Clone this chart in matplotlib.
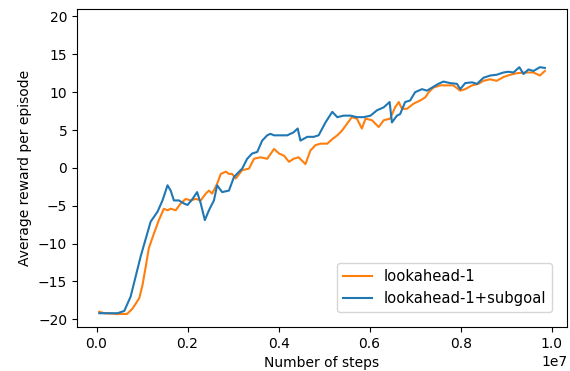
import matplotlib
matplotlib.use('Agg')
from matplotlib import pyplot as plt
import numpy as np

# lookahead-1 (orange)
steps_look = [0.006, 0.017, 0.046, 0.067, 0.079, 0.094, 0.101, 0.108, 0.115, 0.126,
              0.137, 0.148, 0.156, 0.163, 0.174, 0.185, 0.196, 0.207, 0.218, 0.229,
              0.240, 0.247, 0.254, 0.265, 0.273, 0.284, 0.291, 0.298, 0.306, 0.320,
              0.335, 0.346, 0.360, 0.375, 0.390, 0.401, 0.412, 0.423, 0.433, 0.444,
              0.459, 0.470, 0.481, 0.492, 0.507, 0.518, 0.529, 0.539, 0.550, 0.561,
              0.572, 0.583, 0.591, 0.605, 0.620, 0.631, 0.645, 0.656, 0.664, 0.671,
              0.682, 0.697, 0.711, 0.722, 0.730, 0.740, 0.755, 0.770, 0.784, 0.799,
              0.810, 0.825, 0.839, 0.850, 0.865, 0.879, 0.894, 0.909, 0.923, 0.942,
              0.960, 0.974, 0.985]
reward_look = [-19.0, -19.2, -19.3, -19.3, -18.6, -17.2, -15.5, -13.1, -10.6, -8.7,
               -6.9, -5.4, -5.6, -5.4, -5.6, -4.7, -4.1, -4.3, -4.1, -4.3,
               -3.4, -3.0, -3.4, -2.1, -0.8, -0.5, -0.8, -0.8, -1.4, -0.3,
               -0.1, 1.2, 1.4, 1.2, 2.5, 1.9, 1.6, 0.8, 1.2, 1.4,
               0.5, 2.3, 3.0, 3.2, 3.2, 3.8, 4.3, 4.9, 5.8, 6.7,
               6.5, 5.2, 6.5, 6.3, 5.4, 6.3, 6.5, 8.0, 8.7, 7.8,
               7.8, 8.5, 8.9, 9.3, 10.0, 10.6, 10.9, 10.9, 10.9, 10.2,
               10.4, 10.9, 11.1, 11.5, 11.7, 11.5, 12.0, 12.3, 12.5, 12.6,
               12.6, 12.2, 12.8]

# lookahead-1+subgoal (blue)
steps_sub = [0.006, 0.046, 0.061, 0.075, 0.097, 0.119, 0.134, 0.145, 0.156, 0.163,
             0.170, 0.181, 0.192, 0.200, 0.211, 0.221, 0.229, 0.238, 0.247, 0.258,
             0.265, 0.276, 0.291, 0.302, 0.320, 0.331, 0.342, 0.353, 0.364, 0.375,
             0.382, 0.390, 0.404, 0.419, 0.433, 0.442, 0.448, 0.463, 0.477, 0.488,
             0.503, 0.518, 0.529, 0.543, 0.558, 0.572, 0.587, 0.602, 0.616, 0.631,
             0.644, 0.649, 0.660, 0.667, 0.678, 0.689, 0.700, 0.715, 0.726, 0.737,
             0.751, 0.762, 0.777, 0.792, 0.799, 0.810, 0.825, 0.836, 0.850, 0.865,
             0.879, 0.894, 0.905, 0.916, 0.929, 0.938, 0.949, 0.960, 0.974, 0.985]
reward_sub = [-19.2, -19.2, -18.9, -17.0, -11.7, -7.1, -5.8, -4.3, -2.3, -3.0,
              -4.3, -4.3, -4.7, -4.9, -4.1, -3.2, -4.7, -6.9, -5.6, -4.3,
              -2.3, -3.2, -3.0, -1.2, -0.1, 1.2, 1.9, 2.1, 3.6, 4.3,
              4.5, 4.3, 4.3, 4.3, 4.7, 5.2, 3.6, 4.1, 4.1, 4.3,
              6.0, 7.4, 6.7, 6.9, 6.9, 6.7, 6.7, 6.9, 7.6, 8.0,
              8.7, 6.0, 6.9, 7.1, 8.7, 8.9, 10.0, 10.4, 10.2, 10.6,
              11.1, 11.4, 11.2, 11.1, 10.4, 11.2, 11.3, 11.1, 11.9, 12.2,
              12.3, 12.6, 12.7, 12.6, 13.3, 12.4, 13.0, 12.8, 13.3, 13.2]

fig = plt.figure(figsize=(5.7, 3.71), dpi=100)
ax = fig.add_axes([0.135, 0.119, 0.86, 0.857])

ax.plot(np.array(steps_look) * 1e7, reward_look, color='#ff7f0e', label='lookahead-1')
ax.plot(np.array(steps_sub) * 1e7, reward_sub, color='#1f77b4', label='lookahead-1+subgoal')

ax.set_ylim(-21, 21)
ax.set_xlabel('Number of steps')
ax.set_ylabel('Average reward per episode')
ax.legend(loc='lower right', fontsize=10.6, borderaxespad=1.0)

fig.savefig('out.png', dpi=100)
